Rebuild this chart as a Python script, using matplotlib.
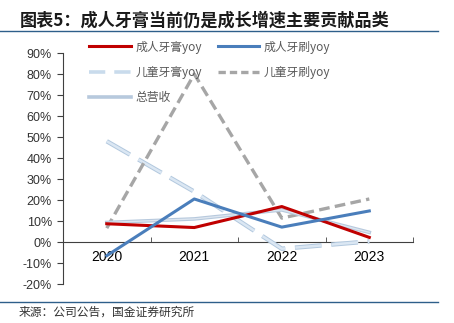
import numpy as np
import matplotlib.pyplot as plt
from matplotlib.lines import Line2D

plt.rcParams['font.family'] = ['Liberation Sans', 'Noto Sans CJK SC', 'DejaVu Sans']

years = ['2020', '2021', '2022', '2023']
adult_paste = [0.087, 0.069, 0.169, 0.022]
adult_brush = [-0.065, 0.205, 0.071, 0.148]
kid_paste = [0.48, 0.24, -0.032, 0.003]
kid_brush = [0.066, 0.80, 0.114, 0.205]
revenue = [0.093, 0.11, 0.153, 0.046]

fig = plt.figure(figsize=(4.54, 3.23), dpi=100)
ax = fig.add_axes([0.1388, 0.1207, 0.771, 0.715])
x = np.arange(len(years))

ax.plot(x, adult_paste, color='#c00000', lw=2.2, zorder=5)
ax.plot(x, adult_brush, color='#4a7ebb', lw=2.2, zorder=5)
# 儿童牙膏 - light blue long dash with darker edge
ax.plot(x, kid_paste, color='#b2c8de', lw=3.2, dashes=(6, 2.2), zorder=3)
ax.plot(x, kid_paste, color='#dbe7f3', lw=1.8, dashes=(10.7, 3.9), zorder=3)
ax.plot(x, kid_brush, color='#a6a6a6', lw=2.4, dashes=(3.2, 1.6), zorder=4)
# 总营收 - light steel blue with pale core
ax.plot(x, revenue, color='#b7c9dd', lw=2.6, zorder=4)
ax.plot(x, revenue, color='#dde6f0', lw=1.0, zorder=4)

ax.set_xlim(-0.5, 3.5)
ax.set_ylim(-0.2, 0.9)
ax.set_yticks(np.arange(-0.2, 0.91, 0.1))
ax.set_yticklabels([f'{v:.0f}%' for v in np.arange(-20, 91, 10)], fontsize=9, color='#333333')
ax.set_xticks(x)
ax.set_xticklabels(years, fontsize=9, color='#333333')
ax.set_xticks([0.5, 1.5, 2.5, 3.5], minor=True)
ax.tick_params(axis='x', which='major', length=0, pad=6)
ax.tick_params(axis='x', which='minor', length=3.5, direction='in', color='#404040')
ax.tick_params(axis='y', length=4, direction='out', color='#404040', pad=4)
ax.spines['top'].set_visible(False)
ax.spines['right'].set_visible(False)
ax.spines['bottom'].set_position(('data', 0))
ax.spines['bottom'].set_color('#404040')
ax.spines['left'].set_color('#404040')
ax.spines['bottom'].set_linewidth(0.8)
ax.spines['left'].set_linewidth(0.8)

# legend filled column-wise, so order: col1 then col2
handles = [
    Line2D([], [], color='#c00000', lw=2.2),
    Line2D([], [], color='#c9dbec', lw=2.6, dashes=(4.5, 2.5)),
    Line2D([], [], color='#b7c9dd', lw=2.6),
    Line2D([], [], color='#4a7ebb', lw=2.2),
    Line2D([], [], color='#a6a6a6', lw=2.4, dashes=(2.2, 1.2)),
]
labels = ['成人牙膏yoy', '儿童牙膏yoy', '总营收', '成人牙刷yoy', '儿童牙刷yoy']
leg = ax.legend(handles, labels, ncol=2, loc='upper left', bbox_to_anchor=(0.045, 1.1),
                frameon=False, fontsize=8.5, handlelength=3.5, handletextpad=0.4,
                columnspacing=1.35, labelspacing=1.05)
for t in leg.get_texts():
    t.set_color('#595959')
    t.set_family(['Noto Sans CJK SC', 'DejaVu Sans'])

fig.text(0.044, 0.935, '图表5：成人牙膏当前仍是成长增速主要贡献品类', fontsize=12.3,
         fontweight='bold', color='#1a1a1a', family=['Noto Sans CJK SC', 'DejaVu Sans'],
         va='center', ha='left')
fig.add_artist(Line2D([0, 0.965], [0.905, 0.905], color='#2e5f8a', lw=1.0))
fig.add_artist(Line2D([0, 0.965], [0.065, 0.065], color='#2e5f8a', lw=1.0))
fig.text(0.04, 0.034, '来源：公司公告，国金证券研究所', fontsize=8.5, color='#333333',
         family=['Noto Sans CJK SC', 'DejaVu Sans'], va='center', ha='left')

fig.savefig('out.png', dpi=100)
